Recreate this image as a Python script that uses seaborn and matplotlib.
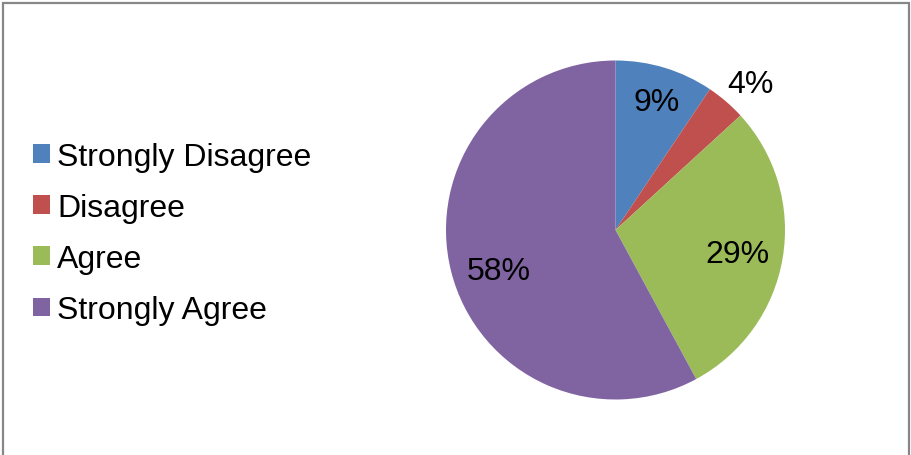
import matplotlib
matplotlib.use("Agg")
import matplotlib.pyplot as plt
import seaborn as sns
import numpy as np
from matplotlib.patches import Rectangle

categories = ["Strongly Disagree", "Disagree", "Agree", "Strongly Agree"]
values = [9.4, 3.8, 28.9, 57.9]
pct_labels = ["9%", "4%", "29%", "58%"]
colors = ["#4F81BD", "#C0504D", "#9BBB59", "#8064A2"]

sns.set_theme(style="white")
plt.rcParams["font.family"] = ["Liberation Sans", "DejaVu Sans"]
plt.rcParams["text.color"] = "black"

W, H = 911, 456
fig = plt.figure(figsize=(W / 100, H / 100), dpi=100)
fig.patch.set_facecolor("white")

cx, cy, r = 615.5, 231, 169.5
ax = fig.add_axes([(cx - r) / W, (H - cy - r) / H, 2 * r / W, 2 * r / H])
wedges, _ = ax.pie(values, colors=colors, startangle=90, counterclock=False,
                   radius=1.0, wedgeprops=dict(linewidth=0))
ax.set_xlim(-1, 1)
ax.set_ylim(-1, 1)
ax.set_aspect("equal")
ax.axis("off")

label_dist = [0.79, 1.17, 0.73, 0.73]
label_shift = [-0.8, -2.0, -1.5, 5.0]
for w, lab, d, s in zip(wedges, pct_labels, label_dist, label_shift):
    mid = np.deg2rad((w.theta1 + w.theta2) / 2 + s)
    ax.text(d * np.cos(mid), d * np.sin(mid), lab, ha="center", va="center",
            fontsize=23, color="black")

leg = fig.legend(wedges, categories, loc="upper left",
                 bbox_to_anchor=(33 / W, 1 - 143 / H),
                 frameon=False, fontsize=23, handlelength=0.53, handleheight=0.53,
                 handletextpad=0.22, labelspacing=0.66, borderaxespad=0, borderpad=0,
                 labelcolor="black")

fig.add_artist(Rectangle((2.5 / W, -0.05), (909 - 2.5) / W, 1.05 - 3.5 / H,
                         transform=fig.transFigure, fill=False,
                         edgecolor="#878787", linewidth=1.6, clip_on=False))

fig.savefig("out.png", dpi=100, facecolor="white")
